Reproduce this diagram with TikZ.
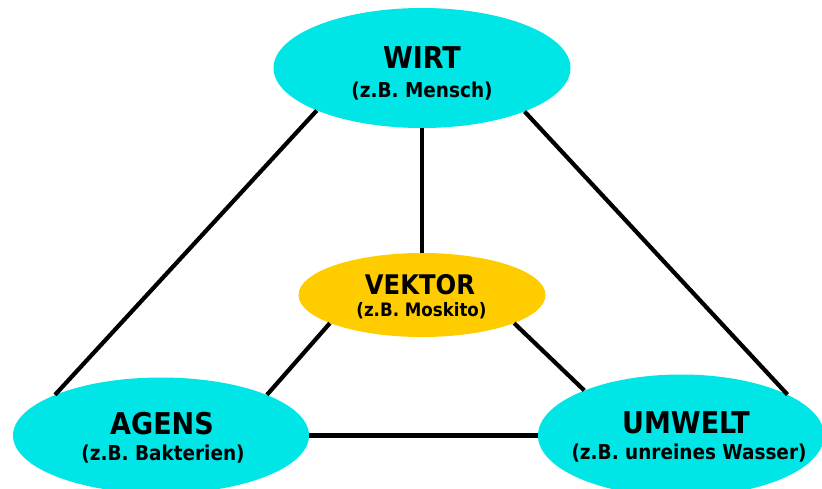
\documentclass[tikz,border=0pt]{standalone}
\usepackage{fontspec}
\setmainfont{DejaVu Sans Condensed}
\usetikzlibrary{shapes.geometric}
\definecolor{hostcyan}{RGB}{0,229,229}
\definecolor{vectoryellow}{RGB}{255,204,0}
\begin{document}
\begin{tikzpicture}[x=1pt,y=-1pt,
  blob/.style={ellipse, inner sep=0pt},
  title/.style={anchor=base, inner sep=0pt, font=\fontsize{30}{32}\selectfont\bfseries},
  subtitle/.style={anchor=base, inner sep=0pt, font=\fontsize{20.5}{22}\selectfont\bfseries},
  link/.style={draw=black, line width=4.2pt}]
\useasboundingbox (0,0) rectangle (822,488);
% the four ellipses
\node[blob, fill=hostcyan, minimum width=297pt, minimum height=120pt] (wirt) at (422,68) {};
\node[blob, fill=vectoryellow, minimum width=247pt, minimum height=84pt] (vektor) at (422,295) {};
\node[blob, fill=hostcyan, minimum width=296pt, minimum height=116pt] (agens) at (161,435.5) {};
\node[blob, fill=hostcyan, minimum width=286pt, minimum height=122pt] (umwelt) at (681,435.5) {};
% their labels
\node[title] (wirt-t) at (422,68) {WIRT};
\node[subtitle] (wirt-s) at (422,97) {(z.B. Mensch)};
\node[title, font=\fontsize{27}{30}\selectfont\bfseries] (vektor-t) at (420,294) {VEKTOR};
\node[subtitle, font=\fontsize{18.5}{21}\selectfont\bfseries] (vektor-s) at (421.5,316) {(z.B. Moskito)};
\node[title] (agens-t) at (162,434) {AGENS};
\node[subtitle] (agens-s) at (163,460) {(z.B. Bakterien)};
\node[title] (umwelt-t) at (686,433) {UMWELT};
\node[subtitle] (umwelt-s) at (689,459) {(z.B. unreines Wasser)};
% connections
\draw[link] (wirt.202) -- (agens.159);
\draw[link] (wirt.-23) -- (umwelt.21);
\draw[link] (wirt.south) -- (vektor.north);
\draw[link] (vektor.197) -- (agens.21);
\draw[link] (vektor.-17) -- (umwelt.155);
\draw[link] (agens.east) -- (umwelt.west);
\end{tikzpicture}
\end{document}
